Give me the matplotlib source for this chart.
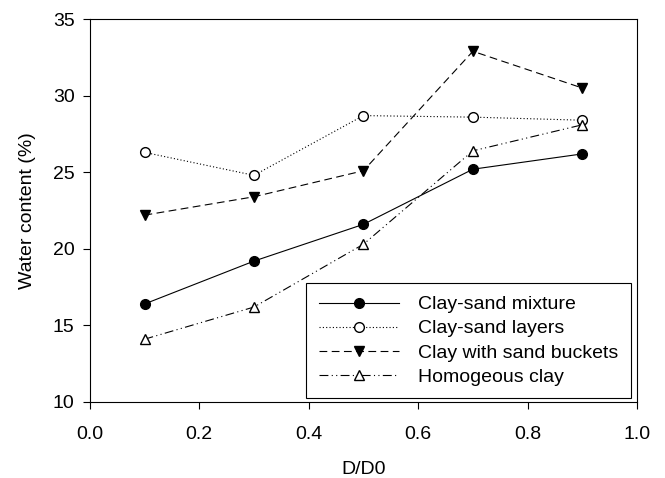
import matplotlib.pyplot as plt

plt.rcParams['font.family'] = ['Liberation Sans', 'DejaVu Sans']

x = [0.1, 0.3, 0.5, 0.7, 0.9]
mixture = [16.4, 19.2, 21.6, 25.2, 26.2]
layers = [26.3, 24.8, 28.7, 28.6, 28.4]
buckets = [22.2, 23.4, 25.1, 32.9, 30.5]
homog = [14.1, 16.2, 20.3, 26.4, 28.1]

labels = ['Clay-sand mixture', 'Clay-sand layers', 'Clay with sand buckets', 'Homogeous clay']

fig = plt.figure(figsize=(6.65, 4.78), dpi=100)
ax = fig.add_axes([0.135, 0.159, 0.823, 0.801])

lw = 0.8
ms = 7
ax.plot(x, mixture, color='black', lw=lw, ls='-', marker='o', ms=ms,
        mfc='black', mec='black', label=labels[0])
ax.plot(x, layers, color='black', lw=lw, ls=(0, (1, 2)), marker='o', ms=ms,
        mfc='white', mec='black', label=labels[1])
ax.plot(x, buckets, color='black', lw=lw, ls=(0, (7, 4)), marker='v', ms=ms + 0.5,
        mfc='black', mec='black', label=labels[2])
ax.plot(x, homog, color='black', lw=lw, ls=(0, (8, 3, 1, 3, 1, 3)), marker='^', ms=ms + 0.5,
        mfc='white', mec='black', label=labels[3])

ax.set_xlim(0, 1.0)
ax.set_ylim(10, 35)
ax.set_xticks([0.0, 0.2, 0.4, 0.6, 0.8, 1.0])
ax.set_xticklabels(['0.0', '0.2', '0.4', '0.6', '0.8', '1.0'])
ax.set_yticks([10, 15, 20, 25, 30, 35])
ax.tick_params(axis='both', labelsize=14, direction='out', length=5, width=lw,
               top=False, right=False)
ax.tick_params(axis='x', pad=12.5)
ax.tick_params(axis='y', pad=6)
for s in ax.spines.values():
    s.set_linewidth(lw)
    s.set_color('black')

ax.set_xlabel('D/D0', fontsize=14, labelpad=12.5)
ax.set_ylabel('Water content (%)', fontsize=14, labelpad=12)

leg = ax.legend(loc='lower right', bbox_to_anchor=(0.989, 0.01), borderaxespad=0,
                fontsize=14, numpoints=1, handlelength=4.1, labelspacing=0.33,
                fancybox=False, framealpha=1, edgecolor='black', handletextpad=1.0,
                borderpad=0.65)
leg.get_frame().set_linewidth(lw)

fig.savefig('out.png', dpi=100)
